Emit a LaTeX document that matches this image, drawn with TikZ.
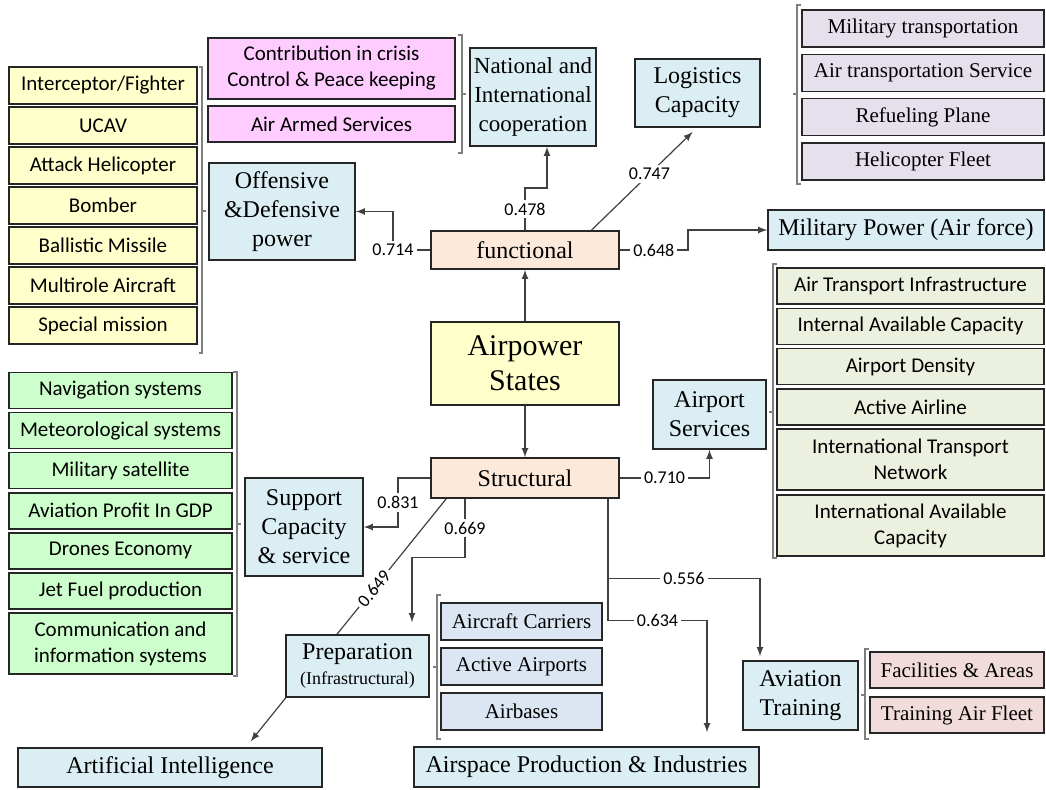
\documentclass[tikz,border=0pt]{standalone}
\usepackage{fontspec}
\setmainfont{Liberation Serif}
\setsansfont{Carlito}
\usetikzlibrary{arrows,calc,positioning,backgrounds}
\definecolor{yelfill}{HTML}{FFFFCC}
\definecolor{pinkfill}{HTML}{FFCCFF}
\definecolor{bluefill}{HTML}{DBEEF4}
\definecolor{peachfill}{HTML}{FDE9D9}
\definecolor{lilacfill}{HTML}{E5E0EC}
\definecolor{olivefill}{HTML}{EBF1DE}
\definecolor{greenfill}{HTML}{CCFFCC}
\definecolor{steelfill}{HTML}{DCE6F2}
\definecolor{rosefill}{HTML}{F2DCDB}
\definecolor{brkgray}{HTML}{7F7F7F}
\definecolor{linegray}{HTML}{404040}

\begin{document}
\begin{tikzpicture}[x=0.5pt,y=-0.5pt,semithick,>=latex]
  \tikzstyle{box}=[draw=black!85,line width=0.7pt,inner sep=1pt,align=center,font=\fontsize{12}{14.5}\selectfont]
  \tikzstyle{sbox}=[box,font=\sffamily\fontsize{10.5}{13}\selectfont]
  \tikzstyle{lbl}=[fill=white,inner sep=1.5pt,font=\sffamily\fontsize{9}{9}\selectfont]
  \tikzstyle{con}=[draw=linegray,line width=0.6pt]
  \tikzstyle{brk}=[draw=brkgray,line width=0.7pt]
  \useasboundingbox (0,0) rectangle (1046,789);

  % core
  \node[box,fill=yelfill,minimum width=94pt,minimum height=41.5pt,font=\fontsize{15}{17.5}\selectfont] (air) at (525,363.5) {Airpower\\States};
  \node[box,fill=peachfill,minimum width=94pt,minimum height=19pt] (func) at (525,250) {functional};
  \node[box,fill=peachfill,minimum width=94pt,minimum height=20pt] (struc) at (525,478) {Structural};

  % functional side
  \node[box,fill=bluefill,minimum width=73pt,minimum height=48.5pt] (off) at (282,211.5) {Offensive\\\&Defensive\\power};
  \foreach \t [count=\i] in {Interceptor/Fighter,UCAV,Attack Helicopter,Bomber,Ballistic Missile,Multirole Aircraft,Special mission}
    \node[sbox,fill=yelfill,minimum width=94pt,minimum height=18.5pt] (fig\i) at (103,{85.5+40*(\i-1)}) {\t};
  \node[sbox,fill=pinkfill,minimum width=123.5pt,minimum height=30.5pt] (crisis) at (331.5,68.5) {Contribution in crisis\\Control \& Peace keeping};
  \node[sbox,fill=pinkfill,minimum width=123.5pt,minimum height=18pt] (armed) at (331.5,124) {Air Armed Services};
  \node[box,fill=bluefill,minimum width=63pt,minimum height=49pt,font=\fontsize{11.5}{14.5}\selectfont] (nat) at (533,97) {National and\\International\\cooperation};
  \node[box,fill=bluefill,minimum width=62.5pt,minimum height=34pt] (logi) at (697.5,93) {Logistics\\Capacity};
  \foreach \t [count=\i] in {Military transportation,Air transportation Service,Refueling Plane,Helicopter Fleet}
    \node[box,fill=lilacfill,minimum width=121pt,minimum height=18.5pt,font=\fontsize{10.5}{12}\selectfont] (log\i) at (923,{28.5+44.3*(\i-1)}) {\t};
  \node[box,fill=bluefill,minimum width=138pt,minimum height=20pt] (mil) at (906,230) {Military Power (Air force)};

  % structural side
  \node[box,fill=bluefill,minimum width=56.5pt,minimum height=34.5pt] (airp) at (709.5,414.5) {Airport\\Services};
  \foreach \t [count=\i] in {Air Transport Infrastructure,Internal Available Capacity,Airport Density,Active Airline}
    \node[sbox,fill=olivefill,minimum width=133.5pt,minimum height=18pt] (srv\i) at (910.5,{286+40.3*(\i-1)}) {\t};
  \node[sbox,fill=olivefill,minimum width=133.5pt,minimum height=30.5pt] (srv5) at (910.5,459.5) {International Transport\\Network};
  \node[sbox,fill=olivefill,minimum width=133.5pt,minimum height=30.5pt] (srv6) at (910.5,525.5) {International Available\\Capacity};
  \node[box,fill=bluefill,minimum width=59pt,minimum height=49pt] (sup) at (304,527) {Support\\Capacity\\\& service};
  \foreach \t [count=\i] in {Navigation systems,Meteorological systems,Military satellite,Aviation Profit In GDP,Drones Economy,Jet Fuel production}
    \node[sbox,fill=greenfill,minimum width=111.5pt,minimum height=18pt] (sys\i) at (120.5,{390.5+40.1*(\i-1)}) {\t};
  \node[sbox,fill=greenfill,minimum width=111.5pt,minimum height=30.5pt] (sys7) at (120.5,643.5) {Communication and\\information systems};
  \node[box,fill=bluefill,minimum width=71.5pt,minimum height=31pt] (prep) at (357.5,666) {Preparation\\[-2pt]{\fontsize{9}{10}\selectfont(Infrastructural)}};
  \node[box,fill=bluefill,minimum width=152pt,minimum height=19.5pt] (ai) at (170,767.5) {Artificial Intelligence};
  \foreach \t [count=\i] in {Aircraft Carriers,Active Airports,Airbases}
    \node[box,fill=steelfill,minimum width=80.5pt,minimum height=18.5pt,font=\fontsize{10.5}{12}\selectfont] (base\i) at (521.5,{621.5+45*(\i-1)}) {\t};
  \node[box,fill=bluefill,minimum width=172.5pt,minimum height=20pt] (asp) at (586.5,767) {Airspace Production \& Industries};
  \node[box,fill=bluefill,minimum width=57.5pt,minimum height=34.5pt] (avt) at (800.5,695.5) {Aviation\\Training};
  \node[box,fill=rosefill,minimum width=87pt,minimum height=18pt,font=\fontsize{10.5}{12}\selectfont] (trn1) at (957,670) {Facilities \& Areas};
  \node[box,fill=rosefill,minimum width=87pt,minimum height=18pt,font=\fontsize{10.5}{12}\selectfont] (trn2) at (957,715) {Training Air Fleet};

  % brackets
  \draw[brk] (199,67) -- (202,67) -- (202,353) -- (199,353) (202,211) -- (206,211);
  \draw[brk] (458,35) -- (462,35) -- (462,153) -- (458,153) (462,94) -- (466,94);
  \draw[brk] (801,5) -- (797,5) -- (797,184) -- (801,184) (797,94) -- (793,94);
  \draw[brk] (777,264) -- (773,264) -- (773,558) -- (777,558) (773,412) -- (769,412);
  \draw[brk] (233,372) -- (237,372) -- (237,676) -- (233,676) (237,524) -- (241,524);
  \draw[brk] (441,595) -- (437,595) -- (437,739) -- (441,739) (437,667) -- (433,667);
  \draw[brk] (869,649) -- (865,649) -- (865,739) -- (869,739) (865,695) -- (861,695);

  % connectors
  \draw[con,->] (air.north) -- (func.south);
  \draw[con,->] (air.south) -- (struc.north);
  \draw[con,->] (func.west) -- (393,250) node[lbl] {0.714} |- (off.east);
  \draw[con,->] (func.north) -- node[lbl] {0.478} (525,188) -- (547,188) -- (547,0 |- nat.south);
  \draw[con,->,shorten >=3pt] ($(func.north)!0.7!(func.north east)$) -- node[lbl,pos=0.55] {0.747} (697,0 |- logi.south);
  \draw[con,->] (func.east) -- node[lbl] {0.648} (688,250) |- (mil.west);
  \draw[con,->] (struc.east) -| node[lbl,pos=0.25] {0.710} (airp.south);
  \draw[con,->] (struc.west) -- (398,478) |- node[lbl,pos=0.25] {0.831} (sup.east);
  \begin{pgfonlayer}{background}
    \draw[con,->] ([xshift=8pt]struc.south west) -- node[lbl,sloped,pos=0.37] {0.649} ($(ai.north east)+(-72,-6)$);
  \end{pgfonlayer}
  \draw[con,->,shorten >=6pt] ($(struc.south)+(-60,0)$) -- node[lbl] {0.669} ++(0,59) -| (412,0 |- prep.north);
  \draw[con,->,shorten >=2pt] ($(struc.south)+(83,0)$) -- ++(0,80) -- node[lbl] {0.556} ++(152,0) -- (760,0 |- avt.north);
  \draw[con,->,shorten >=7pt] ($(struc.south)+(83,0)$) -- ++(0,122) -- node[lbl] {0.634} ++(99,0) -- (707,0 |- asp.north);
\end{tikzpicture}
\end{document}
